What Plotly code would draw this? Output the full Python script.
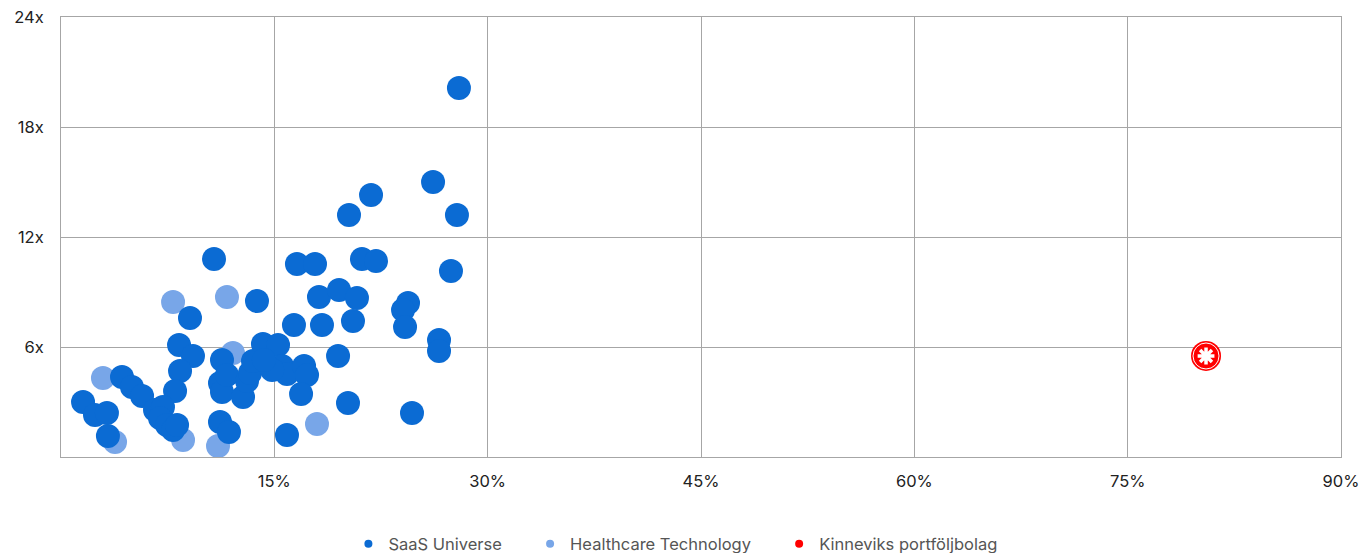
import plotly.graph_objects as go

# ---- data (revenue growth %, EV/Revenue multiple) ----
saas_growth = [27.98, 26.16, 21.80, 20.25, 27.84, 10.76, 16.59, 17.86, 21.16, 22.15,
               27.42, 13.78, 18.14, 19.55, 20.81, 24.40, 24.05, 9.07, 16.38, 18.35,
               20.53, 24.19, 26.58, 26.58, 8.30, 14.20, 15.26, 9.28, 19.48, 11.32,
               8.37, 4.29, 4.99, 5.70, 1.55, 8.02, 11.18, 11.32, 11.67, 12.80,
               13.08, 13.29, 13.50, 15.54, 15.89, 17.09, 17.30, 16.88, 20.18, 24.68,
               2.39, 3.23, 3.30, 6.61, 7.17, 6.96, 7.45, 7.88, 8.16, 11.18,
               11.81, 15.89, 14.84, 14.27]
saas_multiple = [20.13, 15.00, 14.29, 13.20, 13.20, 10.80, 10.53, 10.53, 10.80, 10.69,
                 10.15, 8.51, 8.73, 9.11, 8.67, 8.40, 8.02, 7.58, 7.20, 7.20,
                 7.42, 7.09, 6.38, 5.78, 6.11, 6.16, 6.11, 5.51, 5.51, 5.29,
                 4.69, 4.36, 3.82, 3.33, 3.00, 3.60, 4.04, 3.55, 4.47, 3.27,
                 4.15, 4.58, 5.24, 4.96, 4.53, 4.96, 4.47, 3.44, 2.95, 2.40,
                 2.29, 2.40, 1.15, 2.56, 2.73, 2.13, 1.75, 1.47, 1.75, 1.91,
                 1.36, 1.20, 4.75, 5.29]

hc_growth = [7.88, 11.67, 2.95, 3.80, 8.58, 11.04, 12.09, 18.00]
hc_multiple = [8.45, 8.73, 4.31, 0.82, 0.93, 0.60, 5.67, 1.80]

kinnevik_growth = [80.51]
kinnevik_multiple = [5.51]

series_names = ["SaaS Universe", "Healthcare Technology", "Kinneviks portföljbolag"]

x_tickvals = [15, 30, 45, 60, 75, 90]
x_ticktext = ["15%", "30%", "45%", "60%", "75%", "90%"]
y_tickvals = [6, 12, 18, 24]
y_ticktext = ["6x", "12x", "18x", "24x"]

# ---- styles ----
DARK = "#0B6BD3"
LIGHT = "#78A6E8"
RED = "#FF0000"
GRID = "#A6A6A6"
FONT = "Inter"
PAD = "\u00a0" * 5  # extra spacing between legend entries

fig = go.Figure()

# Data traces (no legend entries)
fig.add_trace(go.Scatter(x=hc_growth, y=hc_multiple, mode="markers", showlegend=False,
                         marker=dict(size=24, color=LIGHT, line=dict(width=0)),
                         hoverinfo="x+y"))
fig.add_trace(go.Scatter(x=saas_growth, y=saas_multiple, mode="markers", showlegend=False,
                         marker=dict(size=24, color=DARK, line=dict(width=0)),
                         hoverinfo="x+y"))
# Kinnevik logo-like marker
fig.add_trace(go.Scatter(x=kinnevik_growth, y=kinnevik_multiple, mode="markers", showlegend=False,
                         marker=dict(size=30, color=RED, line=dict(width=0)), hoverinfo="skip"))
fig.add_trace(go.Scatter(x=kinnevik_growth, y=kinnevik_multiple, mode="markers", showlegend=False,
                         marker=dict(size=26, color=RED, line=dict(width=1, color="white")),
                         hoverinfo="skip"))
fig.add_trace(go.Scatter(x=kinnevik_growth, y=kinnevik_multiple, mode="markers", showlegend=False,
                         marker=dict(size=14, symbol="asterisk-open", color="white",
                                     line=dict(width=3.5, color="white")),
                         hoverinfo="x+y"))

# Legend-only traces
for i, (name, col) in enumerate(zip(series_names, [DARK, LIGHT, RED])):
    label = name + (PAD if i < len(series_names) - 1 else "")
    fig.add_trace(go.Scatter(x=[None], y=[None], mode="markers", name=label,
                             marker=dict(size=8, color=col)))

fig.update_layout(
    width=1362, height=553,
    margin=dict(l=61, r=21, t=17, b=96, autoexpand=False),
    plot_bgcolor="white", paper_bgcolor="white",
    font=dict(family=FONT, size=16, color="#222222"),
    showlegend=True,
    legend=dict(orientation="h", x=0.48, xanchor="center", y=-0.158, yanchor="top",
                font=dict(family=FONT, size=16.5, color="#555555"),
                itemwidth=30, traceorder="normal"),
    hovermode="closest",
)
fig.update_xaxes(range=[0, 90], tickvals=x_tickvals, ticktext=x_ticktext,
                 showgrid=True, gridcolor=GRID, gridwidth=1,
                 showline=True, linecolor=GRID, linewidth=1, mirror=True,
                 zeroline=False, ticks="outside", ticklen=0, automargin=False,
                 ticklabelstandoff=9, tickfont=dict(size=16.5, color="#222222"))
fig.update_yaxes(range=[0, 24], tickvals=y_tickvals, ticktext=y_ticktext,
                 showgrid=True, gridcolor=GRID, gridwidth=1,
                 showline=True, linecolor=GRID, linewidth=1, mirror=True,
                 zeroline=False, ticks="outside", ticklen=0, automargin=False,
                 ticklabelstandoff=13, tickfont=dict(size=16.5, color="#222222"))

fig.write_html("out.html")
